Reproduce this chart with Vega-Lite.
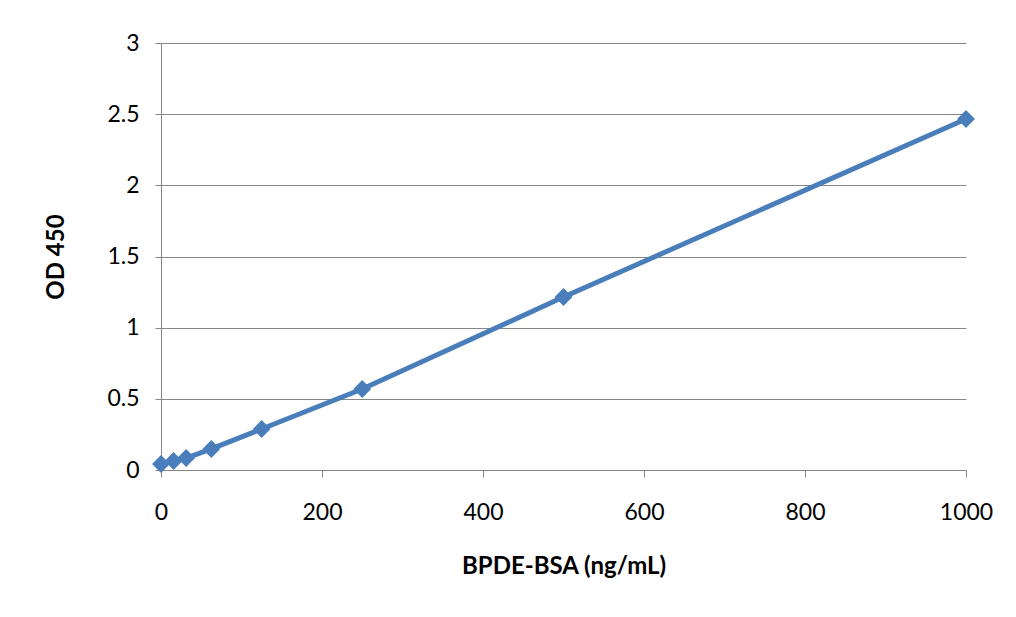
{
  "$schema": "https://vega.github.io/schema/vega-lite/v6.json",
  "width": 805,
  "height": 427,
  "autosize": {"type": "none"},
  "padding": {"left": 161, "top": 43, "right": 50, "bottom": 147},
  "background": "white",
  "config": {
    "view": {"stroke": null},
    "font": "Lato",
    "axis": {
      "labelFont": "Lato",
      "titleFont": "Lato",
      "labelFontSize": 23,
      "labelColor": "#000000",
      "titleColor": "#000000",
      "titleFontSize": 24,
      "titleFontWeight": "bold",
      "domainColor": "#868686",
      "tickColor": "#868686",
      "gridColor": "#868686",
      "gridWidth": 1,
      "domainWidth": 1,
      "tickWidth": 1,
      "labelFlush": false
    }
  },
  "data": {
    "values": [
      {"conc": 0, "od": 0.042},
      {"conc": 15.625, "od": 0.063},
      {"conc": 31.25, "od": 0.084},
      {"conc": 62.5, "od": 0.148},
      {"conc": 125, "od": 0.288},
      {"conc": 250, "od": 0.569},
      {"conc": 500, "od": 1.215},
      {"conc": 1000, "od": 2.466}
    ]
  },
  "encoding": {
    "x": {
      "field": "conc",
      "type": "quantitative",
      "scale": {"domain": [0, 1000], "nice": false, "zero": true},
      "axis": {
        "title": "BPDE-BSA (ng/mL)",
        "values": [0, 200, 400, 600, 800, 1000],
        "format": "d",
        "grid": false,
        "tickSize": 7,
        "labelPadding": 24,
        "titlePadding": 30
      }
    },
    "y": {
      "field": "od",
      "type": "quantitative",
      "scale": {"domain": [0, 3], "nice": false},
      "axis": {
        "title": "OD 450",
        "values": [0, 0.5, 1, 1.5, 2, 2.5, 3],
        "labelExpr": "datum.value",
        "grid": true,
        "tickSize": 6,
        "labelPadding": 16,
        "titlePadding": 38
      }
    }
  },
  "layer": [
    {
      "mark": {"type": "line", "color": "#4A7EBB", "strokeWidth": 5}
    },
    {
      "mark": {"type": "point", "shape": "diamond", "filled": true, "color": "#4A7EBB", "opacity": 1, "size": 320}
    }
  ]
}
